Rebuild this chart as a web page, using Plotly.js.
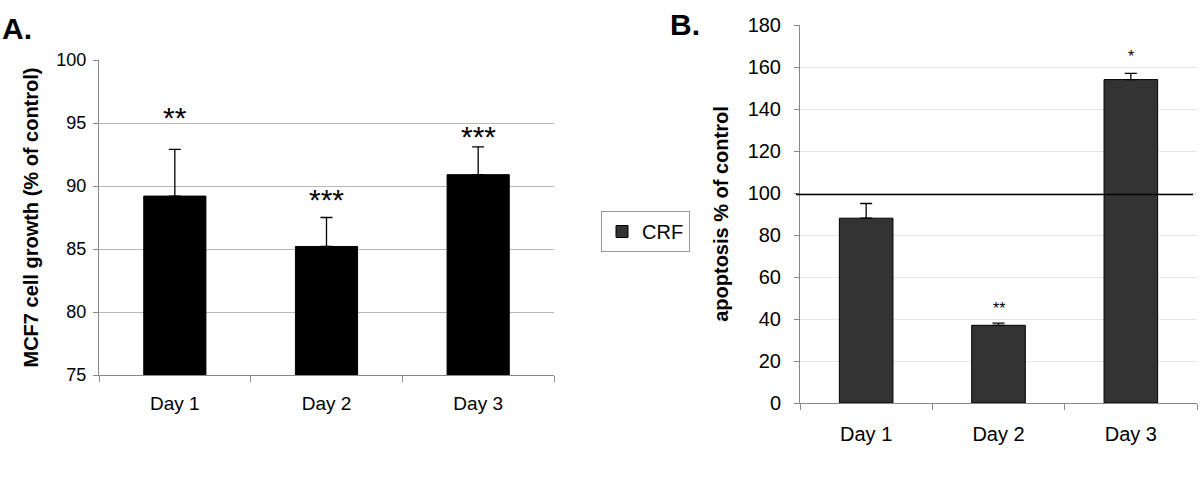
<!DOCTYPE html>
<html><head><meta charset="utf-8">
<script src="https://cdn.plot.ly/plotly-3.0.1.min.js"></script>
<style>html,body{margin:0;padding:0;background:#fff}</style>
</head><body>
<div id="chart" style="width:1200px;height:490px"></div>
<script>
const days = ["Day 1", "Day 2", "Day 3"];
const growthValues = [89.2, 85.2, 90.9];
const growthErrors = [3.7, 2.3, 2.2];
const growthStars = ["**", "***", "***"];
const growthStarY = [95.4, 88.9, 93.9];
const apoptosisValues = [88, 37, 154];
const apoptosisErrors = [7, 1, 3];
const apoptosisStars = ["", "**", "*"];
const apoptosisStarY = [0, 44.8, 164.8];
const controlLevel = 99.3;
const seriesName = "CRF";

const F = "Arial, 'Liberation Sans', sans-serif";

const traces = [
  {type: "bar", x: days, y: growthValues, xaxis: "x", yaxis: "y", showlegend: false,
   width: 0.41, marker: {color: "#000", line: {color: "#000", width: 1}},
   error_y: {type: "data", symmetric: false, array: growthErrors, arrayminus: [0,0,0],
             color: "#000", thickness: 1.3, width: 6}},
  {type: "bar", x: days, y: apoptosisValues, xaxis: "x2", yaxis: "y2", name: seriesName,
   width: 0.405, marker: {color: "#333333", line: {color: "#000", width: 1}},
   error_y: {type: "data", symmetric: false, array: apoptosisErrors, arrayminus: [0,0,0],
             color: "#000", thickness: 1.3, width: 6}}
];

const annotations = [];
days.forEach((d, i) => {
  if (growthStars[i]) annotations.push({xref: "x", yref: "y", x: d, y: growthStarY[i],
    text: growthStars[i], showarrow: false, font: {family: F, size: 30, color: "#000"}});
  if (apoptosisStars[i]) annotations.push({xref: "x2", yref: "y2", x: d, y: apoptosisStarY[i],
    text: apoptosisStars[i], showarrow: false, font: {family: F, size: 16, color: "#000"}});
});
annotations.push({xref: "paper", yref: "paper", x: 0, y: 1 - 10/490, xanchor: "left", yanchor: "top",
  text: "<b>A.</b>", showarrow: false, font: {family: F, size: 30, color: "#000"}});
annotations.push({xref: "paper", yref: "paper", x: 668/1200, y: 1 - 6/490, xanchor: "left", yanchor: "top",
  text: "<b>B.</b>", showarrow: false, font: {family: F, size: 30, color: "#000"}});

const layout = {
  width: 1200, height: 490,
  margin: {l: 0, r: 0, t: 0, b: 0},
  paper_bgcolor: "#fff", plot_bgcolor: "#fff",
  font: {family: F, color: "#000"},
  showlegend: true,
  legend: {x: 601/1200, y: 1 - 211/490, xanchor: "left", yanchor: "top",
    bordercolor: "#999", borderwidth: 1, bgcolor: "#fff", tracegroupgap: 0,
    font: {family: F, size: 20, color: "#000"}},
  xaxis: {domain: [99/1200, 554/1200], anchor: "y", type: "category",
    showline: true, linecolor: "#888", linewidth: 1, ticks: "outside", tickson: "boundaries",
    ticklen: 6, tickcolor: "#888", showgrid: false, tickfont: {size: 19},
    ticklabelstandoff: 11, automargin: false},
  yaxis: {domain: [1 - 375/490, 1 - 60/490], anchor: "x", range: [75, 100], dtick: 5,
    showline: true, linecolor: "#888", ticks: "outside", ticklen: 5, tickcolor: "#888",
    gridcolor: "#b8b8b8", gridwidth: 1, zeroline: false, tickfont: {size: 18},
    ticklabelstandoff: 3,
    title: {text: "<b>MCF7 cell growth (% of control)</b>", font: {size: 20}, standoff: 12},
    automargin: false},
  xaxis2: {domain: [800/1200, 1197/1200], anchor: "y2", type: "category",
    showline: true, linecolor: "#888", linewidth: 1, ticks: "outside", tickson: "boundaries",
    ticklen: 6, tickcolor: "#888", showgrid: false, tickfont: {size: 20},
    ticklabelstandoff: 13, automargin: false},
  yaxis2: {domain: [1 - 403/490, 1 - 25/490], anchor: "x2", range: [0, 180], dtick: 20,
    showline: true, linecolor: "#888", ticks: "outside", ticklen: 5, tickcolor: "#888",
    gridcolor: "#e6e6e6", gridwidth: 1, zeroline: false, tickfont: {size: 20},
    ticklabelstandoff: 9,
    title: {text: "<b>apoptosis % of control</b>", font: {size: 20}, standoff: 13},
    automargin: false},
  shapes: [{type: "line", xref: "x2 domain", yref: "y2", x0: -0.01, x1: 0.99,
    y0: controlLevel, y1: controlLevel, line: {color: "#000", width: 1.5}}],
  annotations: annotations,
  bargap: 0.5
};

Plotly.newPlot("chart", traces, layout, {staticPlot: true, displayModeBar: false});
</script>
</body></html>
